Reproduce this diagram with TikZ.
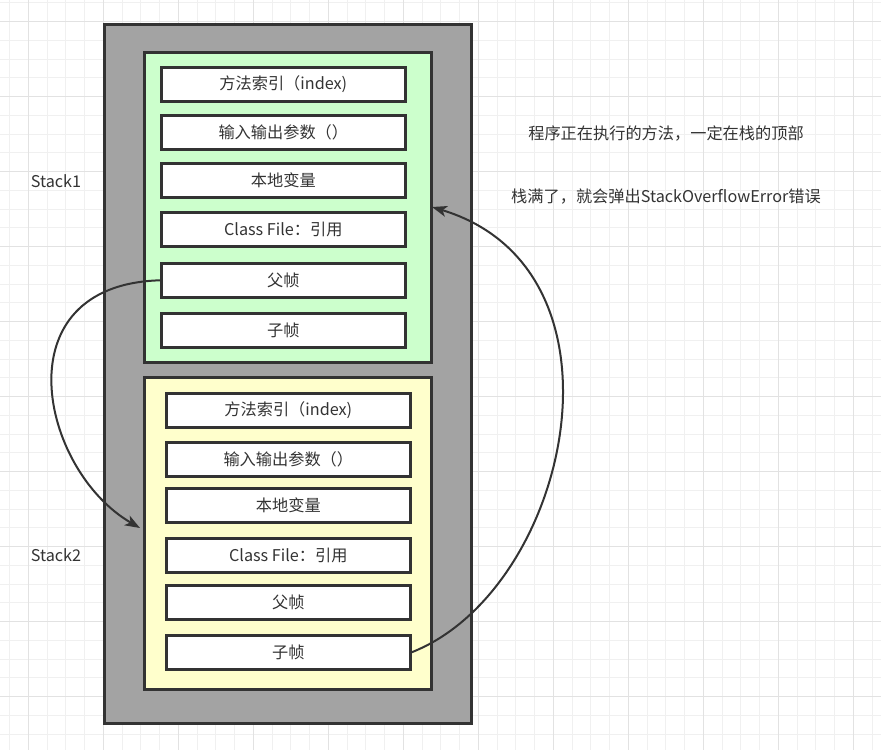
\documentclass[tikz,border=0pt]{standalone}
\usepackage{fontspec}
\setmainfont{Noto Sans CJK SC}
\usetikzlibrary{arrows.meta}
\definecolor{ink}{HTML}{333333}
\definecolor{gridminor}{HTML}{F0F0F0}
\definecolor{gridmajor}{HTML}{E2E2E2}
\definecolor{outerfill}{HTML}{A3A3A3}
\definecolor{greenfill}{HTML}{CCFFCC}
\definecolor{yellowfill}{HTML}{FFFFCC}
\tikzset{
  px/.style={x=1pt,y=-1pt},
  container/.style={draw=ink,line width=3pt,anchor=north west,inner sep=0pt},
  framebox/.style={draw=ink,line width=2.6pt,fill=white,anchor=north west,inner sep=0pt,
    minimum width=244pt,minimum height=34pt,text=ink,font=\fontsize{16.2}{19}\selectfont},
  lbl/.style={text=ink,font=\fontsize{16.2}{19}\selectfont,inner sep=0pt},
  conn/.style={draw=ink,line width=2pt,-{Stealth[length=15pt,width=11pt,inset=4pt]}}
}
\begin{document}
\begin{tikzpicture}[px]
\useasboundingbox (0,0) rectangle (881,750);
\fill[white] (0,0) rectangle (881,750);
% grid
\foreach \i in {0,...,47} {
  \draw[gridminor,line width=1pt] ({9.55+18.75*\i},0) -- ({9.55+18.75*\i},750);
}
\foreach \i in {0,...,40} {
  \draw[gridminor,line width=1pt] (0,{2.95+18.75*\i}) -- (881,{2.95+18.75*\i});
}
\foreach \i in {0,...,11} {
  \draw[gridmajor,line width=1pt] ({28.3+75*\i},0) -- ({28.3+75*\i},750);
}
\foreach \i in {0,...,10} {
  \draw[gridmajor,line width=1pt] (0,{21.7+75*\i}) -- (881,{21.7+75*\i});
}
% containers
\node[container,fill=outerfill,minimum width=367pt,minimum height=699pt] (outer) at (103,23) {};
\node[container,fill=greenfill,minimum width=287pt,minimum height=310pt] (green) at (143,51) {};
\node[container,fill=yellowfill,minimum width=287pt,minimum height=312pt] (yellow) at (143,376) {};
% stack 1 frames
\node[framebox] (g1) at (160,66) {方法索引（index)};
\node[framebox] (g2) at (160,114) {输入输出参数（）};
\node[framebox] (g3) at (160,162) {本地变量};
\node[framebox] (g4) at (160,211) {Class File：引用};
\node[framebox] (g5) at (160,262) {父帧};
\node[framebox] (g6) at (160,312) {子帧};
% stack 2 frames
\node[framebox] (y1) at (165,392) {方法索引（index)};
\node[framebox] (y2) at (165,441) {输入输出参数（）};
\node[framebox] (y3) at (165,487) {本地变量};
\node[framebox] (y4) at (165,537) {Class File：引用};
\node[framebox] (y5) at (165,584) {父帧};
\node[framebox] (y6) at (165,634) {子帧};
% labels
\node[lbl] (s1) at (56,181) {Stack1};
\node[lbl] (s2) at (56,555) {Stack2};
\node[lbl] (t1) at (666,134) {程序正在执行的方法，一定在栈的顶部};
\node[lbl] (t2) at (666,197) {栈满了，就会弹出StackOverflowError错误};
% connectors
\coordinate (a1) at (140,528);
\coordinate (a2) at (432,207);
\draw[conn] (g5.west) .. controls (0,285) and (40,470) .. (a1);
\draw[conn] (y6.east) .. controls (570,590) and (640,270) .. (a2);
\end{tikzpicture}
\end{document}
